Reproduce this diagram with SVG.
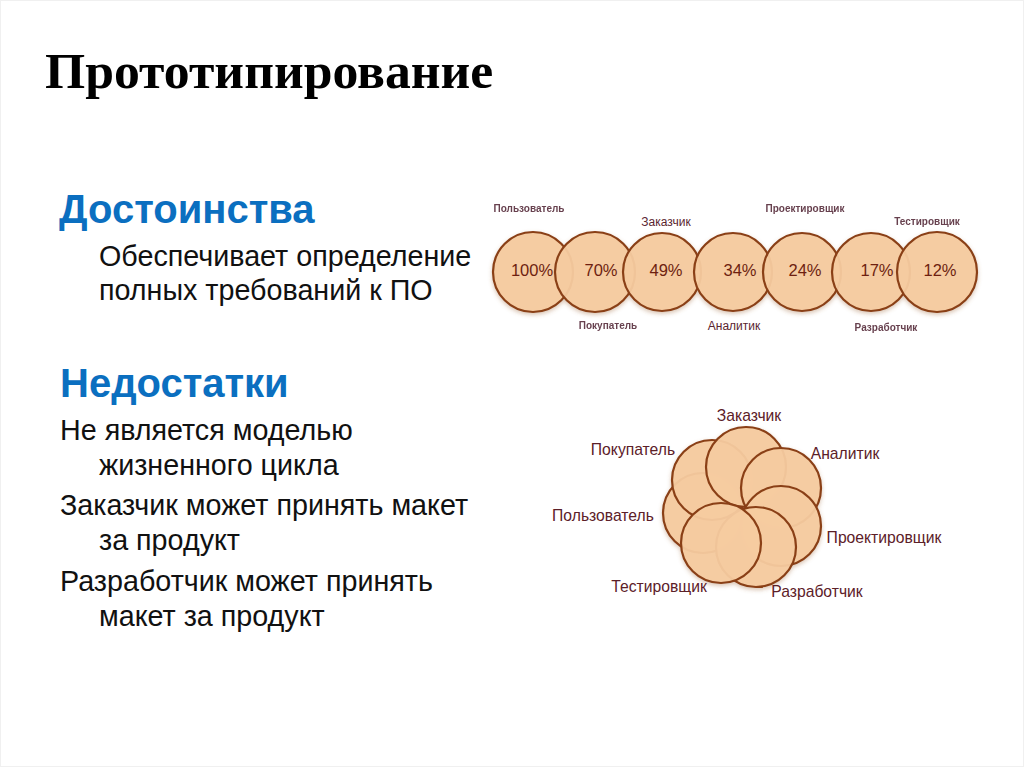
<svg xmlns="http://www.w3.org/2000/svg" width="1024" height="767" viewBox="0 0 1024 767">
<style>
text{font-family:"Liberation Sans",Arial,sans-serif}
.title{font-family:"Liberation Serif","Times New Roman",serif;font-weight:bold;font-size:51.7px;fill:#000}
.head{font-weight:bold;font-size:40px;fill:#0b6fc0}
.body{font-size:28.7px;fill:#111}
.c{fill:#f6cba0;fill-opacity:.95;stroke:#8a3f17;stroke-width:2.2}
.pct{font-size:16.5px;fill:#6e1f10;text-anchor:middle}
.s{font-size:10px;fill:#4d2030;text-anchor:middle;font-weight:bold;opacity:.85}
.m{font-size:12px;fill:#5a2530;text-anchor:middle}
.l{font-size:15.7px;fill:#5c2028;text-anchor:middle}
</style>
<defs>
<filter id="sh" x="-20%" y="-20%" width="140%" height="150%"><feDropShadow dx="0" dy="2" stdDeviation="2" flood-color="#a06a40" flood-opacity=".4"/></filter>
</defs>
<rect width="1024" height="767" fill="#fff"/>
<rect x="0.5" y="0.5" width="1023" height="766" fill="none" stroke="#f0f0f0"/>
<g id="slide-text">
<text class="title" x="45" y="88">Прототипирование</text>
<text class="head" x="59" y="223">Достоинства</text>
<text class="body" x="99" y="266">Обеспечивает определение</text>
<text class="body" x="99" y="300">полных требований к ПО</text>
<text class="head" x="60" y="397">Недостатки</text>
<text class="body" x="60" y="440">Не является моделью</text>
<text class="body" x="99" y="475">жизненного цикла</text>
<text class="body" x="60" y="515">Заказчик может принять макет</text>
<text class="body" x="99" y="550">за продукт</text>
<text class="body" x="60" y="591">Разработчик может принять</text>
<text class="body" x="99" y="626">макет за продукт</text>
</g>
<g id="connectors"/>
<g id="row-circles" filter="url(#sh)">
<circle id="r-user" class="c" cx="533" cy="272" r="40"/>
<circle id="r-buyer" class="c" cx="595" cy="272" r="40"/>
<circle id="r-client" class="c" cx="662" cy="272" r="39"/>
<circle id="r-analyst" class="c" cx="733" cy="272" r="39"/>
<circle id="r-designer" class="c" cx="802" cy="272" r="39"/>
<circle id="r-dev" class="c" cx="871" cy="272" r="39"/>
<circle id="r-test" class="c" cx="937" cy="272" r="40"/>
</g>
<g id="row-labels">
<text class="pct" x="532" y="276">100%</text><text class="s" x="529" y="212">Пользователь</text>
<text class="pct" x="601" y="276">70%</text><text class="s" x="608" y="329">Покупатель</text>
<text class="pct" x="666" y="276">49%</text><text class="m" x="666" y="226">Заказчик</text>
<text class="pct" x="740" y="276">34%</text><text class="m" x="734" y="330">Аналитик</text>
<text class="pct" x="805" y="276">24%</text><text class="s" x="805" y="212">Проектировщик</text>
<text class="pct" x="877" y="276">17%</text><text class="s" x="886" y="331">Разработчик</text>
<text class="pct" x="940" y="276">12%</text><text class="s" x="927" y="225">Тестировщик</text>
</g>
<g id="flower" filter="url(#sh)">
<circle id="f-user" class="c" cx="703" cy="513" r="40"/>
<circle id="f-buyer" class="c" cx="712" cy="480" r="40"/>
<circle id="f-client" class="c" cx="746" cy="467" r="40"/>
<circle id="f-analyst" class="c" cx="781" cy="488" r="40"/>
<circle id="f-designer" class="c" cx="781" cy="526" r="40"/>
<circle id="f-dev" class="c" cx="756" cy="547" r="40"/>
<circle id="f-test" class="c" cx="721" cy="543" r="40"/>
</g>
<g id="flower-labels">
<text class="l" x="749" y="421">Заказчик</text>
<text class="l" x="633" y="455">Покупатель</text>
<text class="l" x="845" y="459">Аналитик</text>
<text class="l" x="603" y="521">Пользователь</text>
<text class="l" x="884" y="543">Проектировщик</text>
<text class="l" x="659" y="592">Тестировщик</text>
<text class="l" x="817" y="597">Разработчик</text>
</g>
</svg>
